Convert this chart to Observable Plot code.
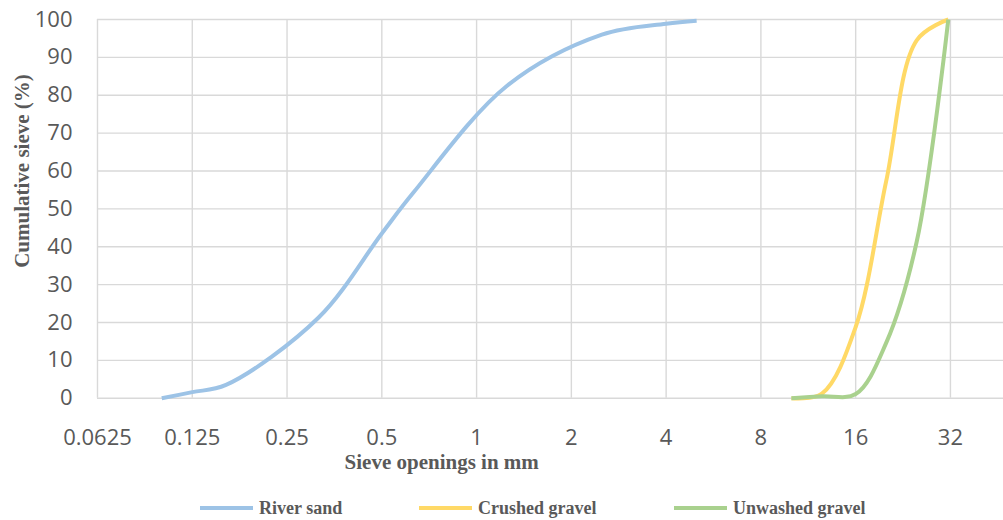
<!DOCTYPE html>
<html>
<head>
<meta charset="utf-8">
<script src="https://cdn.jsdelivr.net/npm/d3@7"></script>
<script src="https://cdn.jsdelivr.net/npm/@observablehq/plot@0.6"></script>
<style>
  html, body { margin: 0; padding: 0; background: #fff; }
  #chart { width: 1003px; height: 520px; overflow: hidden; }
</style>
</head>
<body>
<div id="chart"></div>
<script>
// ---- data ----
const seriesNames = ["River sand", "Crushed gravel", "Unwashed gravel"];
const seriesColors = ["#9dc3e6", "#ffd966", "#a9d18e"];

const riverSandSize = [0.1, 0.125, 0.16, 0.315, 0.5, 0.63, 1.25, 2.5, 4, 5];
const riverSandPass = [0, 1.6, 3.5, 21.3, 43.5, 54.3, 82.5, 96.0, 98.9, 99.7];

const crushedSize = [10, 12.5, 16, 20, 25, 31.5];
const crushedPass = [0, 1.2, 18.8, 57.3, 94.5, 100];

const unwashedSize = [10, 12.5, 16, 20, 25, 31.5];
const unwashedPass = [0, 0.5, 1.1, 14.6, 41.3, 100];

const xTicks = [0.0625, 0.125, 0.25, 0.5, 1, 2, 4, 8, 16, 32];
const yTicks = [0, 10, 20, 30, 40, 50, 60, 70, 80, 90, 100];

const xTitle = "Sieve openings in mm";
const yTitle = "Cumulative sieve (%)";

// ---- build table ----
const rows = [];
[[riverSandSize, riverSandPass], [crushedSize, crushedPass], [unwashedSize, unwashedPass]]
  .forEach(([xs, ys], i) => xs.forEach((x, j) => rows.push({series: seriesNames[i], size: x, pass: ys[j]})));

const W = 1003, H = 520;
const gridColor = "#d9d9d9";
const textColor = "#595959";

const plot = Plot.plot({
  width: W,
  height: H,
  marginLeft: 97,
  marginRight: 0,
  marginTop: 19,
  marginBottom: 122.3,
  style: {fontFamily: "'Open Sans', sans-serif", fontSize: "22px", color: textColor, background: "#fff"},
  x: {type: "log", base: 2, domain: [0.0625, 47.17]},
  y: {domain: [0, 100]},
  color: {domain: seriesNames, range: seriesColors},
  marks: [
    Plot.gridX(xTicks, {stroke: gridColor, strokeOpacity: 1, strokeWidth: 1.4}),
    Plot.gridY(yTicks, {stroke: gridColor, strokeOpacity: 1, strokeWidth: 1.4}),
    Plot.axisX(xTicks, {tickSize: 0, tickPadding: 31, label: null, tickFormat: d => String(d), fill: textColor}),
    Plot.axisY(yTicks, {tickSize: 0, tickPadding: 25, label: null, fill: textColor}),
    Plot.line(rows, {x: "size", y: "pass", z: "series", stroke: "series", curve: "catmull-rom",
      strokeWidth: 4, strokeLinejoin: "round", strokeLinecap: "butt"})
  ]
});

document.getElementById("chart").appendChild(plot);

// ---- titles and legend (text, added to the same svg) ----
const svg = d3.select(plot);
const serif = "'Liberation Serif', 'Times New Roman', serif";

function styledText(sel, size, anchor) {
  return sel
    .style("font-family", serif)
    .style("font-weight", "bold")
    .style("font-size", size + "px")
    .style("fill", textColor)
    .style("text-anchor", anchor);
}

styledText(svg.append("text"), 21, "middle")
  .attr("x", 441.7).attr("y", 469)
  .text(xTitle);

styledText(svg.append("text"), 21, "middle")
  .attr("transform", "translate(29,171) rotate(-90)")
  .text(yTitle);

const legendX = [200, 419, 674];
const legendY = 508;
const lg = svg.append("g");
seriesNames.forEach((name, i) => {
  lg.append("line")
    .attr("x1", legendX[i]).attr("x2", legendX[i] + 53)
    .attr("y1", legendY).attr("y2", legendY)
    .attr("stroke", seriesColors[i]).attr("stroke-width", 4);
  styledText(lg.append("text"), 18, "start")
    .attr("x", legendX[i] + 59).attr("y", legendY + 6)
    .text(name);
});
</script>
</body>
</html>
